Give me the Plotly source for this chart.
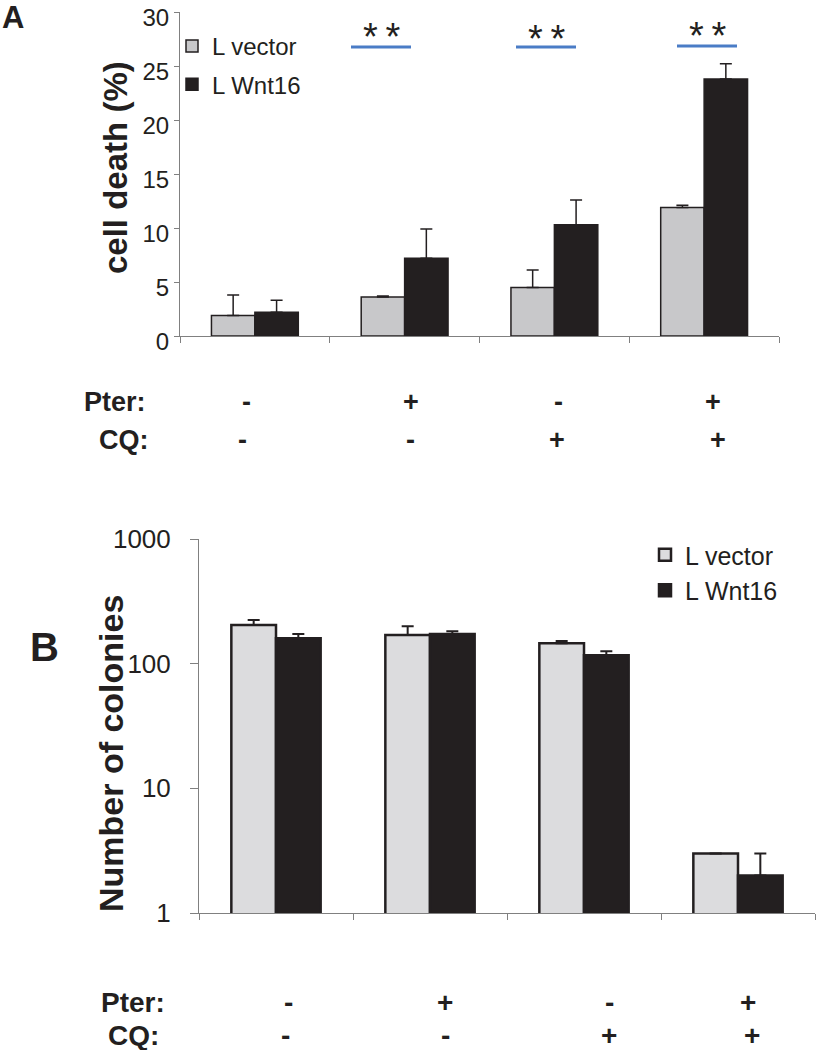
import plotly.graph_objects as go

W, H = 816, 1050

# ---------------- data ----------------
groups = [0, 1, 2, 3]
pter = ["-", "+", "-", "+"]
cq = ["-", "-", "+", "+"]

# Panel A: cell death (%)
death_vector = [1.9, 3.6, 4.5, 11.9]
death_vector_top = [3.8, 3.7, 6.1, 12.1]
death_wnt16 = [2.2, 7.2, 10.3, 23.8]
death_wnt16_top = [3.3, 9.9, 12.6, 25.2]
significance = ["", "**", "**", "**"]

# Panel B: number of colonies (log scale)
col_vector = [204, 170, 146, 3.0]
col_vector_top = [224, 200, 152, 3.0]
col_wnt16 = [160, 173, 117, 2.0]
col_wnt16_top = [173, 182, 126, 3.0]

a_ticks = [0, 5, 10, 15, 20, 25, 30]
b_ticks = [1, 10, 100, 1000]
b_ticktext = ["1", "10", "100", "1000"]

# ---------------- style ----------------
FONT = "Arial, Liberation Sans, Helvetica, sans-serif"
INK = "#231f20"
AXIS = "#808080"
GRAY_A = "#c8c8ca"
GRAY_B = "#dcdcde"
BLUE = "#4a7cc6"


def fx(px):
    return px / W


def fy(py):
    return 1 - py / H


def diff(top, val):
    return [t - v for t, v in zip(top, val)]


fig = go.Figure()

# Panel A bars
fig.add_trace(go.Bar(
    x=groups, y=death_vector, name="L vector", xaxis="x", yaxis="y",
    marker=dict(color=GRAY_A, line=dict(color=INK, width=1.5)),
    error_y=dict(type="data", symmetric=False, array=diff(death_vector_top, death_vector),
                 arrayminus=[0] * 4, color=INK, thickness=1.5, width=6),
    legend="legend", legendgroup="a1",
))
fig.add_trace(go.Bar(
    x=groups, y=death_wnt16, name="L Wnt16", xaxis="x", yaxis="y",
    marker=dict(color=INK, line=dict(color=INK, width=1.5)),
    error_y=dict(type="data", symmetric=False, array=diff(death_wnt16_top, death_wnt16),
                 arrayminus=[0] * 4, color=INK, thickness=1.5, width=6),
    legend="legend", legendgroup="a2",
))

# Panel B bars
fig.add_trace(go.Bar(
    x=groups, y=col_vector, name="L vector", xaxis="x2", yaxis="y2",
    marker=dict(color=GRAY_B, line=dict(color=INK, width=2.5)),
    error_y=dict(type="data", symmetric=False, array=diff(col_vector_top, col_vector),
                 arrayminus=[0] * 4, color=INK, thickness=2, width=6),
    legend="legend2",
))
fig.add_trace(go.Bar(
    x=groups, y=col_wnt16, name="L Wnt16", xaxis="x2", yaxis="y2",
    marker=dict(color=INK, line=dict(color=INK, width=2.5)),
    error_y=dict(type="data", symmetric=False, array=diff(col_wnt16_top, col_wnt16),
                 arrayminus=[0] * 4, color=INK, thickness=2, width=6),
    legend="legend2",
))

xaxis_common = dict(
    range=[-0.5, 3.5], tickvals=[-0.5, 0.5, 1.5, 2.5, 3.5], showticklabels=False,
    ticks="outside", ticklen=6, tickcolor=AXIS, tickwidth=1,
    showline=True, linecolor=AXIS, linewidth=1, showgrid=False, zeroline=False,
    fixedrange=True, automargin=False,
)

annotations = []
shapes = []

# Panel labels
annotations.append(dict(text="<b>A</b>", x=fx(0), y=fy(18), xref="paper", yref="paper",
                        xanchor="left", yanchor="middle", showarrow=False,
                        font=dict(family=FONT, size=31, color=INK)))
annotations.append(dict(text="<b>B</b>", x=fx(28), y=fy(647), xref="paper", yref="paper",
                        xanchor="left", yanchor="middle", showarrow=False,
                        font=dict(family=FONT, size=40, color=INK)))

# Y titles
annotations.append(dict(text="<b>cell death (%)</b>", x=fx(115), y=fy(168), xref="paper", yref="paper",
                        xanchor="center", yanchor="middle", textangle=-90, showarrow=False,
                        font=dict(family=FONT, size=33, color=INK)))
annotations.append(dict(text="<b>Number of colonies</b>", x=fx(111), y=fy(753), xref="paper", yref="paper",
                        xanchor="center", yanchor="middle", textangle=-90, showarrow=False,
                        font=dict(family=FONT, size=34, color=INK)))

# Treatment rows
rows = [
    # (label, values, label_right_px, y_px, value x px, font size)
    ("Pter:", pter, 147, 402, [247, 411, 558, 713], 27),
    ("CQ:", cq, 150, 440, [242, 410, 557, 718], 27),
    ("Pter:", pter, 166, 1002, [288, 445, 609, 748], 28),
    ("CQ:", cq, 160, 1035, [285, 446, 609, 752], 28),
]
for label, vals, lx, ly, xs, fs in rows:
    annotations.append(dict(text="<b>" + label + "</b>", x=fx(lx), y=fy(ly), xref="paper", yref="paper",
                            xanchor="right", yanchor="middle", showarrow=False, borderpad=0,
                            font=dict(family=FONT, size=fs, color=INK)))
    for v, xp in zip(vals, xs):
        annotations.append(dict(text="<b>" + v + "</b>", x=fx(xp), y=fy(ly), xref="paper", yref="paper",
                                xanchor="center", yanchor="middle", showarrow=False, borderpad=0,
                                font=dict(family=FONT, size=fs, color=INK)))

# Significance markers (panel A)
sig_x = [None, 381, 546, 707]
sig_line_y = [None, 47, 47, 46]
sig_star_y = [None, 30, 32, 29]
for s, xc, ly, sy in zip(significance, sig_x, sig_line_y, sig_star_y):
    if not s:
        continue
    shapes.append(dict(type="line", xref="paper", yref="paper",
                       x0=fx(xc - 30), x1=fx(xc + 30), y0=fy(ly), y1=fy(ly),
                       line=dict(color=BLUE, width=3)))
    annotations.append(dict(text="\u2009".join(s), x=fx(xc), y=fy(sy + 7), xref="paper", yref="paper",
                            xanchor="center", yanchor="middle", showarrow=False,
                            font=dict(family=FONT, size=38, color=INK)))

fig.update_layout(
    width=W, height=H, autosize=False,
    margin=dict(l=0, r=0, t=0, b=0, pad=0, autoexpand=False),
    paper_bgcolor="white", plot_bgcolor="white",
    barmode="group", bargap=0.42, bargroupgap=0,
    font=dict(family=FONT, color=INK),
    xaxis=dict(domain=[fx(180), fx(779)], anchor="y", **xaxis_common),
    yaxis=dict(domain=[fy(336), fy(12)], anchor="x", range=[0, 30], tickvals=a_ticks,
               ticks="outside", ticklen=5, tickcolor=AXIS, showline=True, linecolor=AXIS, linewidth=1,
               showgrid=False, zeroline=False, tickfont=dict(family=FONT, size=24, color=INK),
               ticklabelshift=6, ticklabeloverflow="allow",
               fixedrange=True, automargin=False),
    xaxis2=dict(domain=[fx(199), fx(815)], anchor="y2", **xaxis_common),
    yaxis2=dict(domain=[fy(913), fy(539)], anchor="x2", type="log", range=[0, 3],
                tickvals=b_ticks, ticktext=b_ticktext,
                ticks="outside", ticklen=8, tickcolor=AXIS, showline=True, linecolor=AXIS, linewidth=1,
                showgrid=False, zeroline=False, tickfont=dict(family=FONT, size=26, color=INK),
                ticklabelstandoff=14, ticklabeloverflow="allow", fixedrange=True, automargin=False),
    legend=dict(x=fx(172), y=fy(24), xanchor="left", yanchor="top", bgcolor="rgba(0,0,0,0)",
                font=dict(family=FONT, size=24, color=INK), traceorder="grouped", tracegroupgap=4),
    legend2=dict(x=fx(645), y=fy(532), xanchor="left", yanchor="top", bgcolor="rgba(0,0,0,0)",
                 font=dict(family=FONT, size=25, color=INK), traceorder="normal"),
    annotations=annotations,
    shapes=shapes,
)

fig.write_html(
    "out.html",
    config={"displayModeBar": False},
    post_script="document.body.style.margin='0';document.body.style.overflow='hidden';",
)
